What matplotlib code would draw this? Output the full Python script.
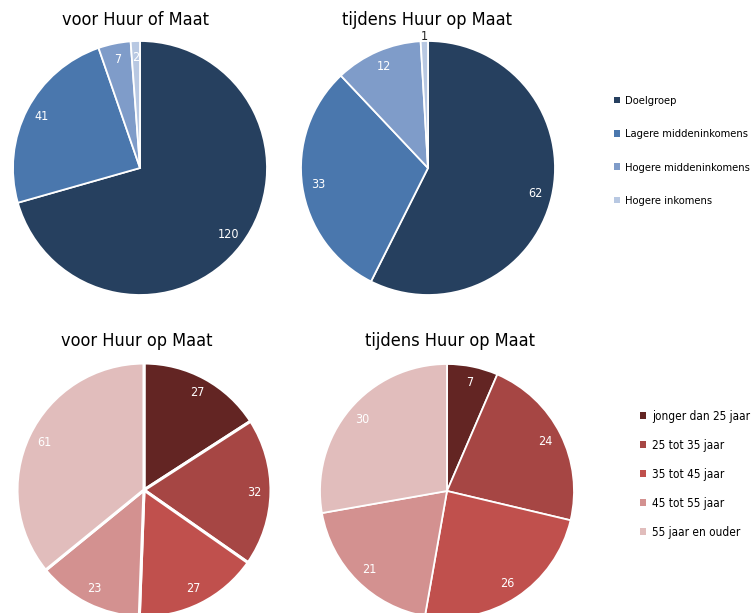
import matplotlib.pyplot as plt
from matplotlib.patches import Patch

plt.rcParams['font.family'] = ['DejaVu Sans']
plt.rcParams['font.stretch'] = 'condensed'

W, H = 752, 613

# Data
income_labels = ['Doelgroep', 'Lagere middeninkomens', 'Hogere middeninkomens', 'Hogere inkomens']
income_before = [120, 41, 7, 2]
income_during = [62, 33, 12, 1]
income_colors = ['#26405F', '#4A77AD', '#7F9CC9', '#B8C8E2']

age_labels = ['jonger dan 25 jaar', '25 tot 35 jaar', '35 tot 45 jaar', '45 tot 55 jaar', '55 jaar en ouder']
age_before = [27, 32, 27, 23, 61]
age_during = [7, 24, 26, 21, 30]
age_colors = ['#632523', '#A64644', '#C0504D', '#D39190', '#E1BDBC']

fig = plt.figure(figsize=(W / 100, H / 100), dpi=100)
fig.set_facecolor('white')


def pie_axes(cx, cy, r):
    # cx, cy in pixels from top-left
    return fig.add_axes([(cx - r) / W, 1 - (cy + r) / H, 2 * r / W, 2 * r / H])


def draw_pie(ax, values, colors, title, title_xy, lw=1.3, outside=()):
    total = sum(values)
    wedges, _, autotexts = ax.pie(
        values, colors=colors, startangle=90, counterclock=False,
        autopct=lambda p: f'{p * total / 100:.0f}', pctdistance=0.87,
        wedgeprops=dict(edgecolor='white', linewidth=lw),
        textprops=dict(color='white', fontsize=9),
    )
    for i in outside:
        x, y = autotexts[i].get_position()
        autotexts[i].set_position((x * 1.19, y * 1.19))
        autotexts[i].set_color('#222222')
    ax.set_xlim(-1, 1)
    ax.set_ylim(-1, 1)
    ax.axis('off')
    fig.text(title_xy[0] / W, 1 - title_xy[1] / H, title, ha='center', va='center',
             fontsize=13, color='black')
    return wedges


ax1 = pie_axes(140, 168, 127)
draw_pie(ax1, income_before, income_colors, 'voor Huur of Maat', (135, 20))

ax2 = pie_axes(428, 168, 127)
draw_pie(ax2, income_during, income_colors, 'tijdens Huur op Maat', (427, 20), outside=(3,))

ax3 = pie_axes(144, 490, 127)
draw_pie(ax3, age_before, age_colors, 'voor Huur op Maat', (137, 341), lw=2.2)

ax4 = pie_axes(447, 491, 127)
draw_pie(ax4, age_during, age_colors, 'tijdens Huur op Maat', (450, 341))

# Legends
top_handles = [Patch(facecolor=c, edgecolor='none') for c in income_colors]
fig.legend(top_handles, income_labels, loc='upper left',
           bbox_to_anchor=(614 / W, 1 - 96 / H), frameon=False,
           fontsize=8, handlelength=0.55, handleheight=0.55, handletextpad=0.45,
           labelspacing=2.1, borderaxespad=0, borderpad=0)

bot_handles = [Patch(facecolor=c, edgecolor='none') for c in age_colors]
fig.legend(bot_handles, age_labels, loc='upper left',
           bbox_to_anchor=(640 / W, 1 - 410 / H), frameon=False,
           fontsize=8.5, handlelength=0.55, handleheight=0.55, handletextpad=0.45,
           labelspacing=1.35, borderaxespad=0, borderpad=0)

fig.savefig('out.png', dpi=100, facecolor='white')
